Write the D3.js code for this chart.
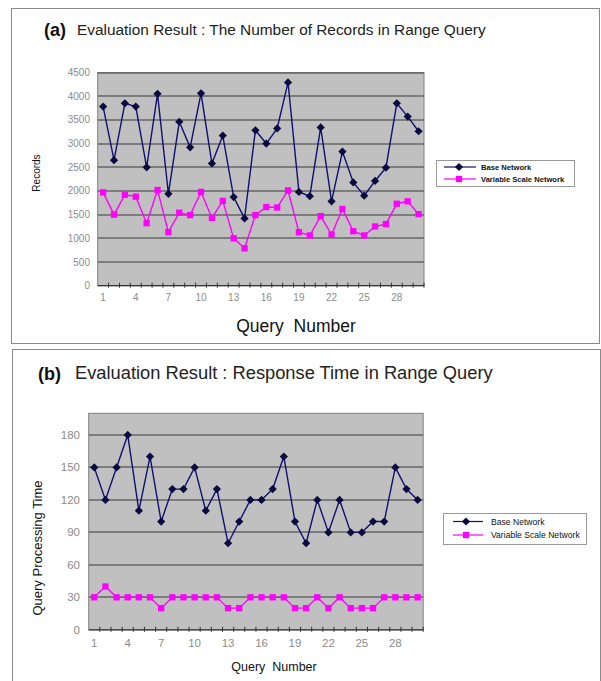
<!DOCTYPE html>
<html>
<head>
<meta charset="utf-8">
<script src="https://cdn.jsdelivr.net/npm/d3@7"></script>
<style>
  body { margin: 0; background: #fff; }
  text { font-family: "Liberation Sans", Arial, sans-serif; }
</style>
</head>
<body>
<svg id="chart" width="601" height="681"></svg>
<script>
// query numbers 1..30
var queries = [1,2,3,4,5,6,7,8,9,10,11,12,13,14,15,16,17,18,19,20,21,22,23,24,25,26,27,28,29,30];
var xTickLabels = [1,4,7,10,13,16,19,22,25,28];
var seriesNames = ["Base Network", "Variable Scale Network"];

// (a) number of records
var recordsBase = [3780,2650,3850,3780,2500,4050,1940,3460,2920,4060,2580,3170,1870,1420,3280,
                   3000,3320,4290,1980,1890,3340,1780,2830,2180,1900,2210,2490,3850,3570,3260];
var recordsVar  = [1970,1500,1920,1880,1320,2020,1130,1540,1490,1980,1430,1790,1000,790,1490,
                   1660,1650,2010,1130,1060,1470,1080,1620,1150,1060,1250,1300,1730,1780,1510];
var recordsTicks = [0,500,1000,1500,2000,2500,3000,3500,4000,4500];

// (b) response time
var timeBase = [150,120,150,180,110,160,100,130,130,150,110,130,80,100,120,
                120,130,160,100,80,120,90,120,90,90,100,100,150,130,120];
var timeVar  = [30,40,30,30,30,30,20,30,30,30,30,30,20,20,30,
                30,30,30,20,20,30,20,30,20,20,20,30,30,30,30];
var timeTicks = [0,30,60,90,120,150,180];

var svg = d3.select("#chart");

// square rotated 45 degrees, like the excel diamond marker
var diamond = { draw: function(ctx, size) {
  var r = Math.sqrt(size / 2);
  ctx.moveTo(0, -r); ctx.lineTo(r, 0); ctx.lineTo(0, r); ctx.lineTo(-r, 0); ctx.closePath();
}};

function panel(cfg) {
  var g = svg.append("g");

  // outer frame
  g.append("rect")
    .attr("x", cfg.frame[0] + 0.5).attr("y", cfg.frame[1] + 0.5)
    .attr("width", cfg.frame[2]).attr("height", cfg.frame[3])
    .attr("fill", "none").attr("stroke", "#8a8a8a").attr("stroke-width", 1);

  // title
  g.append("text")
    .attr("x", cfg.tag[0]).attr("y", cfg.tag[1])
    .attr("font-size", cfg.tag[2]).attr("font-weight", "bold").attr("fill", "#111")
    .text(cfg.tagText);
  g.append("text")
    .attr("x", cfg.title[0]).attr("y", cfg.title[1])
    .attr("font-size", cfg.title[2]).attr("fill", "#222")
    .text(cfg.titleText);

  var x = d3.scaleBand().domain(queries).range([cfg.plot[0], cfg.plot[1]]);
  var y = d3.scaleLinear().domain([0, cfg.ymax]).range([cfg.plot[3], cfg.plot[2]]);

  g.append("rect")
    .attr("x", cfg.plot[0]).attr("y", cfg.plot[2])
    .attr("width", cfg.plot[1] - cfg.plot[0]).attr("height", cfg.plot[3] - cfg.plot[2])
    .attr("fill", "#c0c0c0").attr("stroke", "#808080").attr("stroke-width", 1);

  // gridlines
  g.selectAll(".grid").data(cfg.ticks.filter(function(d){ return d > 0; }))
    .enter().append("line")
    .attr("x1", cfg.plot[0]).attr("x2", cfg.plot[1])
    .attr("y1", function(d){ return Math.round(y(d)); })
    .attr("y2", function(d){ return Math.round(y(d)); })
    .attr("stroke", "#666").attr("stroke-width", 1.3);

  // y labels
  g.selectAll(".yl").data(cfg.ticks).enter().append("text")
    .attr("x", cfg.ylabX).attr("y", function(d){ return y(d); })
    .attr("dy", "0.35em").attr("text-anchor", "end")
    .attr("font-size", cfg.ylabSize).attr("fill", "#8c8c8c")
    .text(function(d){ return d; });

  // x axis line and ticks
  var y0 = y(0);
  g.append("line")
    .attr("x1", cfg.plot[0]).attr("x2", cfg.plot[1])
    .attr("y1", y0).attr("y2", y0)
    .attr("stroke", "#333").attr("stroke-width", 1.3);
  g.selectAll(".xt").data(queries).enter().append("line")
    .attr("x1", function(d){ return x(d) + x.bandwidth(); })
    .attr("x2", function(d){ return x(d) + x.bandwidth(); })
    .attr("y1", y0 - 3).attr("y2", y0 + 2)
    .attr("stroke", "#333").attr("stroke-width", 1);

  g.selectAll(".xl").data(xTickLabels).enter().append("text")
    .attr("x", function(d){ return x(d) + x.bandwidth() / 2; })
    .attr("y", cfg.xlabY)
    .attr("text-anchor", "middle")
    .attr("font-size", cfg.ylabSize).attr("fill", "#8c8c8c")
    .text(function(d){ return d; });

  // axis titles
  g.append("text")
    .attr("x", cfg.xTitle[0]).attr("y", cfg.xTitle[1])
    .attr("text-anchor", "middle").attr("font-size", cfg.xTitle[2])
    .attr("fill", "#111").style("white-space", "pre")
    .text("Query  Number");
  g.append("text")
    .attr("transform", "translate(" + cfg.yTitle[0] + "," + cfg.yTitle[1] + ") rotate(-90)")
    .attr("text-anchor", "middle").attr("dy", "0.35em")
    .attr("font-size", cfg.yTitle[2]).attr("fill", "#111")
    .text(cfg.yTitleText);

  var line = d3.line()
    .x(function(d, i){ return x(queries[i]) + x.bandwidth() / 2; })
    .y(function(d){ return y(d); });

  // variable scale network (magenta squares)
  g.append("path").datum(cfg.varData)
    .attr("d", line).attr("fill", "none")
    .attr("stroke", "#ff00ff").attr("stroke-width", 1.4);
  g.selectAll(".sq").data(cfg.varData).enter().append("path")
    .attr("transform", function(d, i){
      return "translate(" + (x(queries[i]) + x.bandwidth() / 2) + "," + y(d) + ")";
    })
    .attr("d", d3.symbol().type(d3.symbolSquare).size(40))
    .attr("fill", "#ff00ff");

  // base network (navy diamonds)
  g.append("path").datum(cfg.baseData)
    .attr("d", line).attr("fill", "none")
    .attr("stroke", "#101070").attr("stroke-width", 1.4);
  g.selectAll(".dm").data(cfg.baseData).enter().append("path")
    .attr("transform", function(d, i){
      return "translate(" + (x(queries[i]) + x.bandwidth() / 2) + "," + y(d) + ")";
    })
    .attr("d", d3.symbol().type(diamond).size(34))
    .attr("fill", "#0a0a40");

  // legend
  var L = cfg.legend;
  g.append("rect")
    .attr("x", L.x + 0.5).attr("y", L.y + 0.5).attr("width", L.w).attr("height", L.h)
    .attr("fill", "#fff").attr("stroke", "#999");
  var rows = g.selectAll(".lg").data(seriesNames).enter().append("g")
    .attr("transform", function(d, i){ return "translate(0," + (L.y + L.r0 + i * L.dr) + ")"; });
  rows.append("line")
    .attr("x1", L.lx1).attr("x2", L.lx2)
    .attr("stroke", function(d, i){ return i ? "#ff00ff" : "#101070"; })
    .attr("stroke-width", 1.2);
  rows.append("path")
    .attr("transform", "translate(" + L.mx + ",0)")
    .attr("d", function(d, i){
      return d3.symbol().type(i ? d3.symbolSquare : diamond).size(i ? 40 : 34)();
    })
    .attr("fill", function(d, i){ return i ? "#ff00ff" : "#0a0a40"; });
  rows.append("text")
    .attr("x", L.tx).attr("dy", "0.35em")
    .attr("font-size", L.fs).attr("font-weight", L.fw).attr("fill", "#111")
    .text(function(d){ return d; });
}

panel({
  frame: [11, 8, 588, 335],
  tag: [44, 36, 18], tagText: "(a)",
  title: [77, 35, 15.4], titleText: "Evaluation Result : The Number of Records in Range Query",
  plot: [97.7, 424, 72.5, 285.7],
  ymax: 4500, ticks: recordsTicks,
  ylabX: 90, ylabSize: 10, xlabY: 301,
  xTitle: [296, 332, 17.5], yTitle: [36, 173, 10], yTitleText: "Records",
  baseData: recordsBase, varData: recordsVar,
  legend: { x: 436, y: 160, w: 138, h: 26, r0: 7, dr: 12, lx1: 444, lx2: 476, mx: 459, tx: 481, fs: 7.6, fw: "bold" }
});

panel({
  frame: [12, 349, 588, 340],
  tag: [38, 380, 18], tagText: "(b)",
  title: [75, 379, 18.3], titleText: "Evaluation Result : Response Time in Range Query",
  plot: [88.7, 423.2, 413.3, 629.8],
  ymax: 200, ticks: timeTicks,
  ylabX: 80, ylabSize: 11.5, xlabY: 647,
  xTitle: [274, 671, 12.5], yTitle: [37, 548, 13], yTitleText: "Query Processing Time",
  baseData: timeBase, varData: timeVar,
  legend: { x: 443, y: 513, w: 143, h: 31, r0: 8.5, dr: 13.5, lx1: 453, lx2: 483, mx: 466, tx: 491, fs: 8.6, fw: "normal" }
});
</script>
</body>
</html>
